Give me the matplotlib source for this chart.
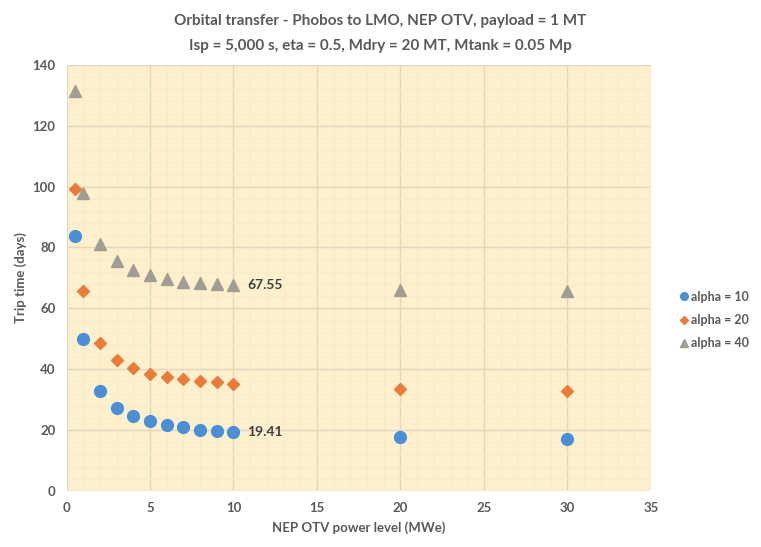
import matplotlib
matplotlib.use("Agg")
import matplotlib.pyplot as plt
from matplotlib.ticker import MultipleLocator

plt.rcParams['font.family'] = ['Lato', 'DejaVu Sans']

# Power levels (MWe)
power = [0.5, 1, 2, 3, 4, 5, 6, 7, 8, 9, 10, 20, 30]

# Trip time (days) for each specific mass alpha
alpha10 = [83.8, 49.8, 32.9, 27.3, 24.5, 22.9, 21.8, 20.9, 20.2, 19.8, 19.41, 17.7, 17.2]
alpha20 = [99.3, 65.7, 48.7, 43.2, 40.3, 38.6, 37.6, 36.7, 36.0, 35.7, 35.3, 33.6, 32.8]
alpha40 = [131.5, 97.8, 81.2, 75.4, 72.5, 71.0, 69.7, 68.8, 68.3, 67.9, 67.55, 66.1, 65.6]

series_labels = ['alpha = 10', 'alpha = 20', 'alpha = 40']
title_lines = ['Orbital transfer - Phobos to LMO, NEP OTV, payload = 1 MT',
               'Isp = 5,000 s, eta = 0.5, Mdry = 20 MT, Mtank = 0.05 Mp']
x_label = 'NEP OTV power level (MWe)'
y_label = 'Trip time (days)'

text_gray = '#595959'

fig = plt.figure(figsize=(7.61, 5.47), dpi=100, facecolor='white')
ax = fig.add_axes([0.0874, 0.1024, 0.768, 0.779])
ax.set_facecolor('#FDF0CC')

ax.plot(power, alpha10, linestyle='none', marker='o', ms=8.5, color='#4A8FD6',
        label=series_labels[0], zorder=3)
ax.plot(power, alpha20, linestyle='none', marker='D', ms=5.8, color='#EB7B3A',
        label=series_labels[1], zorder=3)
ax.plot(power, alpha40, linestyle='none', marker='^', ms=8, color='#A29C94',
        label=series_labels[2], zorder=3)

# Value labels at the 10 MWe point
ax.annotate(f'{alpha40[10]:.2f}', (power[10], alpha40[10]), xytext=(10, 0),
            textcoords='offset points', va='center', ha='left',
            fontsize=10, fontweight='bold', color='#404040')
ax.annotate(f'{alpha10[10]:.2f}', (power[10], alpha10[10]), xytext=(10, 0),
            textcoords='offset points', va='center', ha='left',
            fontsize=10, fontweight='bold', color='#404040')

ax.set_xlim(0, 35)
ax.set_ylim(0, 140)
ax.xaxis.set_major_locator(MultipleLocator(5))
ax.yaxis.set_major_locator(MultipleLocator(20))
ax.xaxis.set_minor_locator(MultipleLocator(1))
ax.yaxis.set_minor_locator(MultipleLocator(4))
ax.grid(which='major', color='#E3D6BF', linewidth=1.0, zorder=0)
ax.grid(which='minor', color='#F9EBC9', linewidth=0.8, zorder=0)
ax.set_axisbelow(True)

for s in ax.spines.values():
    s.set_visible(False)
ax.tick_params(which='both', length=0)
ax.tick_params(axis='both', labelsize=9.5, labelcolor=text_gray, pad=8)
for lab in ax.get_xticklabels() + ax.get_yticklabels():
    lab.set_fontweight('bold')

ax.set_xlabel(x_label, fontsize=9.5, fontweight='bold', color=text_gray, labelpad=5)
ax.set_ylabel(y_label, fontsize=9.5, fontweight='bold', color=text_gray, labelpad=4)

fig.text(0.5, 0.975, title_lines[0], ha='center', va='top', fontsize=11,
         fontweight='bold', color=text_gray)
fig.text(0.5, 0.928, title_lines[1], ha='center', va='top', fontsize=11,
         fontweight='bold', color=text_gray)

leg = fig.legend(loc='center left', bbox_to_anchor=(0.878, 0.415), frameon=False,
                 fontsize=9, handletextpad=0.1, handlelength=0.8, labelspacing=0.9,
                 markerscale=0.65)
for t in leg.get_texts():
    t.set_color(text_gray)
    t.set_fontweight('bold')

fig.savefig('out.png', dpi=100, facecolor='white')
